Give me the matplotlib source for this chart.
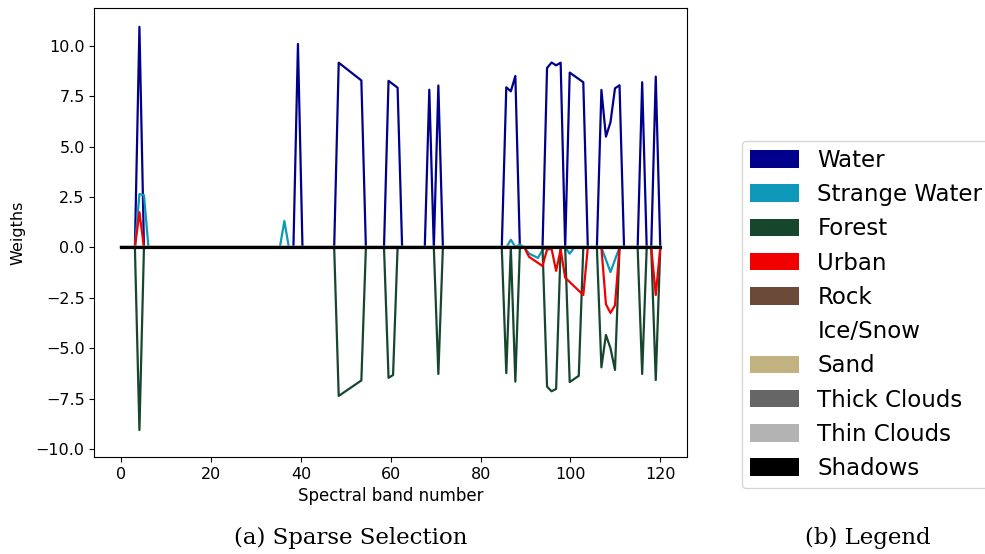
import numpy as np
import matplotlib
matplotlib.use("Agg")
import matplotlib.pyplot as plt
from matplotlib.patches import Patch

# Class names and colours
classes = ["Water", "Strange Water", "Forest", "Urban", "Rock", "Ice/Snow",
           "Sand", "Thick Clouds", "Thin Clouds", "Shadows"]
colors = ["#00008b", "#0d97b8", "#17462f", "#f00000", "#6b4a3a", "#ffffff",
          "#c2b280", "#666666", "#b3b3b3", "#000000"]

# 120 spectral bands spread over the 0..120 axis
n_bands = 120
band_pos = np.linspace(0, 120, n_bands)

# Sparse weights: band indices (knots) and weight values per class
water_idx = [0, 3, 4, 5, 38, 39, 40, 47, 48, 53, 54, 58, 59, 61, 62, 67, 68, 69, 70, 71,
             84, 85, 86, 87, 88, 93, 94, 95, 96, 97, 98, 99, 102, 103, 105, 106, 107, 108,
             109, 110, 111, 114, 115, 116, 117, 118, 119]
water_w = [0, 0, 10.95, 0, 0, 10.1, 0, 0, 9.17, 8.29, 0, 0, 8.27, 7.93, 0, 0, 7.83, 0, 8.04, 0,
           0, 7.95, 7.75, 8.51, 0, 0, 8.91, 9.18, 9.04, 9.17, 0, 8.68, 8.2, 0, 0, 7.82, 5.5, 6.21,
           7.9, 8.05, 0, 0, 8.2, 0, 0, 8.48, 0]

strange_idx = [0, 3, 4, 5, 6, 35, 36, 37, 85, 86, 87, 88, 89, 90, 92, 93, 94, 98, 99, 100,
               106, 108, 110, 119]
strange_w = [0, 0, 2.65, 2.6, 0, 0, 1.31, 0, 0, 0.38, 0.03, 0.15, 0, -0.3, -0.52, -0.12, 0, 0,
             -0.31, 0, 0, -1.22, 0, 0]

forest_idx = [0, 3, 4, 5, 47, 48, 53, 54, 58, 59, 60, 61, 69, 70, 71, 84, 85, 86, 87, 88,
              93, 94, 95, 96, 97, 98, 99, 101, 102, 105, 106, 107, 108, 109, 110, 114, 115,
              116, 117, 118, 119]
forest_w = [0, 0, -9.06, 0, 0, -7.37, -6.6, 0, 0, -6.47, -6.33, 0, 0, -6.28, 0, 0, -6.24, 0,
            -6.66, 0, 0, -6.91, -7.14, -7.02, 0, 0, -6.68, -6.37, 0, 0, -5.95, -4.34, -5.0,
            -6.08, 0, 0, -6.28, 0, 0, -6.58, 0]

urban_idx = [0, 3, 4, 5, 89, 90, 93, 94, 95, 96, 97, 98, 102, 103, 106, 107, 108, 109, 110,
             117, 118, 119]
urban_w = [0, 0, 1.75, 0, 0, -0.46, -0.92, -0.1, -0.07, -1.16, -0.1, -1.5, -2.36, 0, 0, -2.82,
           -3.25, -2.87, 0, 0, -2.36, 0]

# Classes with no selected bands
zero_idx = [0, 119]
zero_w = [0, 0]

series = [
    (water_idx, water_w),
    (strange_idx, strange_w),
    (forest_idx, forest_w),
    (urban_idx, urban_w),
    (zero_idx, zero_w),  # Rock
    (zero_idx, zero_w),  # Ice/Snow
    (zero_idx, zero_w),  # Sand
    (zero_idx, zero_w),  # Thick Clouds
    (zero_idx, zero_w),  # Thin Clouds
    (zero_idx, zero_w),  # Shadows
]

fig = plt.figure(figsize=(9.85, 5.54), dpi=100)
ax = fig.add_axes([0.0958, 0.1751, 0.6019, 0.811])

for (idx, w), name, c in zip(series, classes, colors):
    lw = 2.3 if name == "Shadows" else 1.6
    ax.plot(band_pos[idx], w, color=c, lw=lw, label=name)

ax.set_xlim(-6, 126)
ax.set_ylim(-10.4, 11.9)
ax.set_yticks(np.arange(-10, 10.1, 2.5))
ax.set_xticks(np.arange(0, 121, 20))
ax.tick_params(labelsize=11.5)
ax.set_xlabel("Spectral band number", fontsize=12)
ax.set_ylabel("Weigths", fontsize=11.5, labelpad=7)

handles = [Patch(facecolor=c, edgecolor="none", label=n) for n, c in zip(classes, colors)]
fig.legend(handles=handles, loc="upper left",
           bbox_to_anchor=(741.7 / 985, 1 - 140.7 / 554), borderaxespad=0,
           fontsize=16.5, handlelength=2.14, handleheight=0.8,
           handletextpad=0.8, labelspacing=0.49, borderpad=0.36)

fig.text(351 / 985, 1 - 538 / 554, "(a) Sparse Selection", ha="center", va="center",
         family="DejaVu Serif", fontsize=16.5)
fig.text(868 / 985, 1 - 538 / 554, "(b) Legend", ha="center", va="center",
         family="DejaVu Serif", fontsize=16.5)

fig.savefig("out.png", dpi=100)
